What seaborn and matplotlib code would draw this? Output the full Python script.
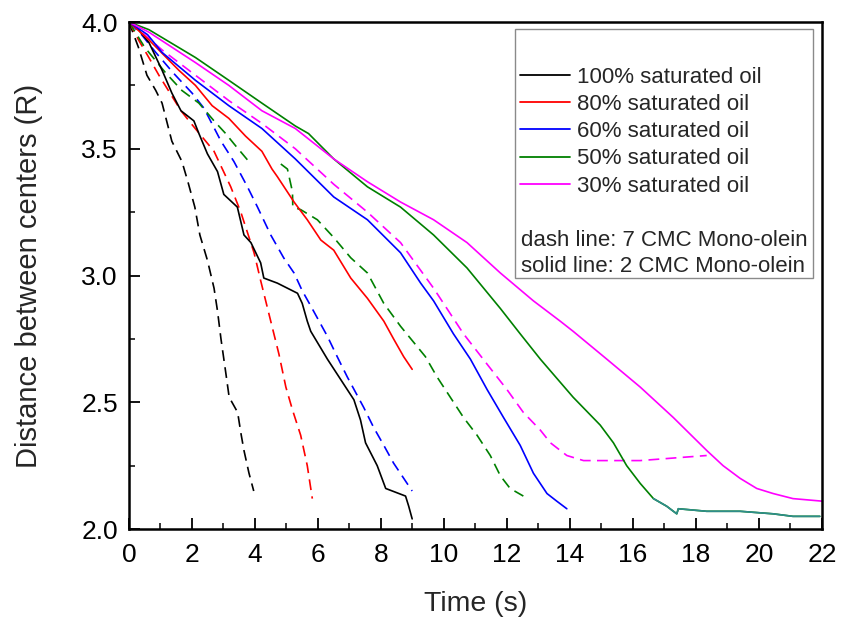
import numpy as np
import pandas as pd
import matplotlib
matplotlib.use("Agg")
import matplotlib.pyplot as plt
import matplotlib.patches as mpatches
from matplotlib.ticker import MultipleLocator
import seaborn as sns

# ---- data: time (s) and centre distance (R) ----
# 7 CMC Mono-olein (dashed)
t_100_7 = [0, 0.3, 0.57, 0.85, 1.05, 1.36, 1.68, 1.87, 2.09, 2.25, 2.49, 2.7, 2.81, 2.92, 3.08, 3.18, 3.45, 3.55, 3.65, 3.81, 3.96]
d_100_7 = [4.0, 3.9, 3.79, 3.73, 3.68, 3.53, 3.45, 3.37, 3.27, 3.16, 3.06, 2.95, 2.86, 2.75, 2.61, 2.52, 2.46, 2.38, 2.31, 2.22, 2.15]

t_80_7 = [0, 0.3, 0.63, 0.95, 1.3, 1.65, 1.97, 2.7, 3.23, 3.55, 3.97, 4.18, 4.34, 4.6, 4.76, 4.98, 5.19, 5.45, 5.66, 5.82]
d_80_7 = [4.0, 3.93, 3.86, 3.79, 3.72, 3.65, 3.6, 3.49, 3.35, 3.25, 3.09, 2.98, 2.90, 2.77, 2.69, 2.56, 2.47, 2.37, 2.25, 2.12]

t_60_7 = [0, 0.4, 0.85, 1.4, 2.0, 2.38, 2.92, 3.33, 3.76, 4.08, 4.5, 4.91, 5.24, 5.5, 5.77, 6.3, 6.61, 6.93, 7.45, 7.77, 8.09, 8.4, 8.99]
d_60_7 = [4.0, 3.95, 3.88, 3.80, 3.72, 3.66, 3.53, 3.45, 3.35, 3.27, 3.16, 3.07, 3.01, 2.94, 2.88, 2.76, 2.68, 2.60, 2.48, 2.40, 2.33, 2.26, 2.15]

t_50_7 = [0, 0.5, 1.16, 1.68, 2.22, 2.7, 3.07, 3.33, 3.87, 4.82, 5.03, 5.19, 5.2, 5.45, 5.98, 6.5, 7.04, 7.57, 8.09, 8.62, 9.41, 9.78, 10.2, 10.62, 11.05, 11.47, 11.79, 12.1, 12.52]
d_50_7 = [4.0, 3.9, 3.8, 3.73, 3.68, 3.61, 3.56, 3.52, 3.44, 3.44, 3.42, 3.33, 3.27, 3.26, 3.22, 3.15, 3.07, 3.01, 2.89, 2.80, 2.68, 2.60, 2.52, 2.44, 2.37, 2.29, 2.21, 2.16, 2.13]
gap_50_7 = 9  # recording gap between 3.87 s and 4.82 s

t_30_7 = [0, 0.4, 1.05, 2.11, 3.17, 4.22, 5.28, 6.5, 7.57, 8.62, 9.67, 10.62, 11.37, 12.0, 12.52, 13.06, 13.38, 13.9, 14.43, 15.17, 16.23, 17.28, 18.34]
d_30_7 = [4.0, 3.96, 3.89, 3.79, 3.69, 3.60, 3.50, 3.36, 3.25, 3.13, 2.95, 2.77, 2.65, 2.55, 2.46, 2.39, 2.34, 2.29, 2.27, 2.27, 2.27, 2.28, 2.29]

# 2 CMC Mono-olein (solid)
t_100_2 = [0, 0.3, 0.63, 1.05, 1.36, 1.65, 2.06, 2.22, 2.49, 2.81, 3.01, 3.44, 3.65, 3.87, 4.18, 4.28, 4.71, 5.35, 5.5, 5.66, 5.77, 6.3, 6.72, 7.14, 7.35, 7.51, 7.88, 8.15, 8.36, 8.78, 8.88, 8.99]
d_100_2 = [4.0, 3.97, 3.92, 3.81, 3.72, 3.65, 3.61, 3.56, 3.48, 3.41, 3.32, 3.27, 3.16, 3.13, 3.05, 2.99, 2.97, 2.93, 2.89, 2.82, 2.78, 2.67, 2.59, 2.51, 2.43, 2.34, 2.25, 2.16, 2.15, 2.13, 2.09, 2.04]

t_80_2 = [0, 0.63, 1.58, 2.11, 2.64, 3.17, 3.7, 4.22, 4.54, 4.71, 5.24, 5.66, 6.09, 6.5, 7.04, 7.57, 8.09, 8.4, 8.72, 8.99]
d_80_2 = [4.0, 3.93, 3.81, 3.75, 3.67, 3.62, 3.55, 3.49, 3.42, 3.39, 3.29, 3.22, 3.14, 3.10, 2.99, 2.91, 2.82, 2.75, 2.68, 2.63]

t_60_2 = [0, 0.59, 1.05, 2.11, 3.17, 4.22, 5.28, 6.5, 7.57, 8.62, 9.26, 9.67, 10.3, 10.84, 11.37, 11.89, 12.42, 12.84, 13.27, 13.58, 13.9]
d_60_2 = [4.0, 3.95, 3.88, 3.77, 3.67, 3.58, 3.46, 3.31, 3.22, 3.09, 2.97, 2.90, 2.77, 2.67, 2.55, 2.44, 2.33, 2.22, 2.14, 2.11, 2.08]

t_50_2 = [0, 0.63, 2.11, 3.17, 4.22, 5.28, 5.7, 6.5, 7.57, 8.62, 9.67, 10.73, 11.79, 12.42, 13.06, 14.1, 14.96, 15.38, 15.8, 16.23, 16.65, 17.07, 17.39, 17.44, 18.34, 19.4, 20.45, 21.08, 21.93]
d_50_2 = [4.0, 3.97, 3.86, 3.77, 3.68, 3.59, 3.56, 3.46, 3.35, 3.27, 3.16, 3.03, 2.87, 2.77, 2.67, 2.52, 2.41, 2.34, 2.25, 2.18, 2.12, 2.09, 2.06, 2.08, 2.07, 2.07, 2.06, 2.05, 2.05]

t_30_2 = [0, 0.63, 2.11, 3.17, 4.22, 5.28, 6.5, 7.57, 8.62, 9.67, 10.73, 11.79, 12.84, 13.69, 14.1, 15.17, 16.23, 17.28, 18.34, 18.86, 19.4, 19.93, 20.45, 21.08, 22.0]
d_30_2 = [4.0, 3.96, 3.84, 3.75, 3.65, 3.58, 3.46, 3.37, 3.29, 3.22, 3.13, 3.01, 2.90, 2.82, 2.78, 2.67, 2.56, 2.44, 2.31, 2.25, 2.20, 2.16, 2.14, 2.12, 2.11]

labels = ["100% saturated oil", "80% saturated oil", "60% saturated oil",
          "50% saturated oil", "30% saturated oil"]
colors = ["#000000", "#ff0000", "#0000ff", "#008000", "#ff00ff"]
tail_color = "#2f8c8c"
tail_start = 16.65

x_ticks = [0, 2, 4, 6, 8, 10, 12, 14, 16, 18, 20, 22]
y_ticks = [2.0, 2.5, 3.0, 3.5, 4.0]

solid = [(t_100_2, d_100_2), (t_80_2, d_80_2), (t_60_2, d_60_2), (t_50_2, d_50_2), (t_30_2, d_30_2)]

# dashed runs, split where the recording has a gap
dashed = [
    (t_100_7, d_100_7, colors[0]),
    (t_80_7, d_80_7, colors[1]),
    (t_60_7, d_60_7, colors[2]),
    (t_50_7[:gap_50_7], d_50_7[:gap_50_7], colors[3]),
    (t_50_7[gap_50_7:], d_50_7[gap_50_7:], colors[3]),
    (t_30_7, d_30_7, colors[4]),
]

# ---- style ----
sns.set_style("white")
plt.rcParams["font.family"] = ["Liberation Sans", "DejaVu Sans"]

fig = plt.figure(figsize=(8.42, 6.24), dpi=100)
ax = fig.add_axes([0.1532, 0.1522, 0.8230, 0.8125])

dash_style = (0, (6.5, 3.8))
lw = 1.2

for t, d, c in dashed:
    sns.lineplot(x=t, y=d, ax=ax, color=c, linewidth=lw, linestyle=dash_style,
                 estimator=None, sort=False)

for (t, d), c in zip(solid, colors):
    sns.lineplot(x=t, y=d, ax=ax, color=c, linewidth=lw,
                 estimator=None, sort=False)

# tail of the 50% run drawn in teal
t50 = np.array(t_50_2)
d50 = np.array(d_50_2)
mask = t50 >= tail_start
sns.lineplot(x=t50[mask], y=d50[mask], ax=ax, color=tail_color, linewidth=lw,
             estimator=None, sort=False)

# ---- axes ----
ax.set_xlim(0, 22)
ax.set_ylim(2.0, 4.0)
ax.set_xticks(x_ticks)
ax.set_yticks(y_ticks)
ax.set_yticklabels([f"{v:.1f}" for v in y_ticks])
ax.xaxis.set_minor_locator(MultipleLocator(1))
ax.yaxis.set_minor_locator(MultipleLocator(0.25))
ax.tick_params(axis="both", which="major", direction="in", length=8, width=1.3,
               labelsize=19, color="black", labelcolor="black",
               bottom=True, left=True, top=False, right=False)
ax.tick_params(axis="x", which="major", pad=10)
ax.tick_params(axis="y", which="major", pad=8)
ax.tick_params(axis="both", which="minor", direction="in", length=4.5, width=1.3,
               bottom=True, left=True, top=False, right=False)
for s in ax.spines.values():
    s.set_visible(True)
    s.set_color("black")
    s.set_linewidth(1.8)

ax.set_xlabel("Time (s)", fontsize=20.5)
ax.set_ylabel("Distance between centers (R)", fontsize=21)
ax.xaxis.set_label_coords(0.5, -0.122)
ax.yaxis.set_label_coords(-0.124, 0.5)

# ---- legend box ----
box = mpatches.Rectangle((0.557, 0.495), 0.430, 0.491, transform=ax.transAxes,
                         facecolor="white", edgecolor="#8a8a8a", linewidth=1.0, zorder=3)
ax.add_patch(box)

handles = [plt.Line2D([], [], color=c, linewidth=1.3) for c in colors]
leg = ax.legend(handles, labels, loc="upper left", bbox_to_anchor=(0.564, 0.912),
                frameon=False, fontsize=16, handlelength=2.25, handletextpad=0.32,
                labelspacing=0.28, borderpad=0, borderaxespad=0)
leg.set_zorder(4)

ax.text(0.566, 0.570, "dash line: 7 CMC Mono-olein", transform=ax.transAxes,
        fontsize=16, va="center", ha="left", zorder=4)
ax.text(0.566, 0.517, "solid line: 2 CMC Mono-olein", transform=ax.transAxes,
        fontsize=16, va="center", ha="left", zorder=4)

fig.savefig("out.png", dpi=100, facecolor="white")
